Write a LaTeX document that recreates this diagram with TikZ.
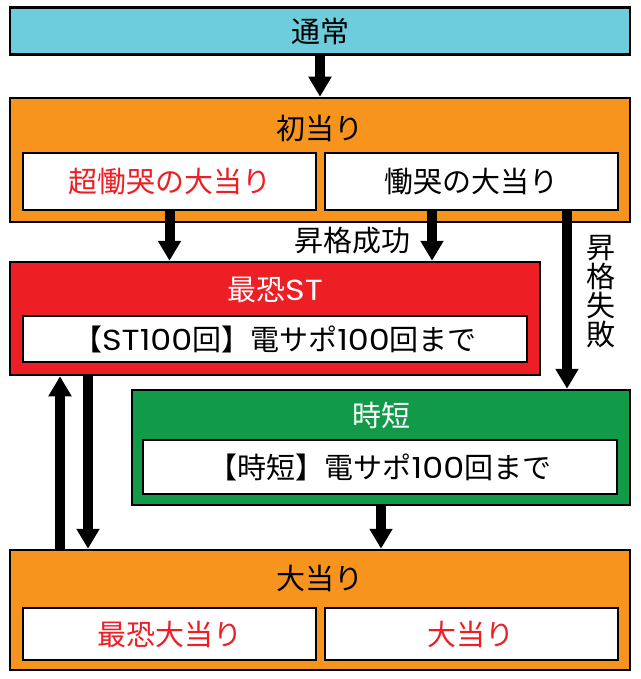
\documentclass[tikz,border=0pt]{standalone}
\usepackage{fontspec}
\setmainfont{Noto Sans CJK JP}
\newfontfamily\lat[FakeStretch=1.15]{Poppins}
\usetikzlibrary{arrows.meta}
\definecolor{tsujo}{RGB}{110,205,220}
\definecolor{atari}{RGB}{247,148,29}
\definecolor{saired}{RGB}{237,30,36}
\definecolor{jitan}{RGB}{17,155,72}
\begin{document}
\begin{tikzpicture}[x=1pt, y=-1pt, line join=miter, >={Triangle[width=22pt,length=20pt]}]
	\tikzset{every node/.style={font=\fontsize{29}{31}\selectfont}}
	\tikzset{outer/.style={draw, line width=2.5pt, minimum width=620pt, inner sep=0pt},
		inner/.style={draw, fill=white, line width=2pt, inner sep=0pt, minimum width=293pt},
		flow/.style={->, line width=10pt}}
	\useasboundingbox (0,0) rectangle (640,679);
	% boxes
	\node[outer, fill=tsujo, minimum height=47pt] (tsujo) at (320,31) {通常};
	\node[outer, fill=atari, minimum height=124pt] (shoatari) at (320,160) {};
	\node (shoatarit) at (320,128) {初当り};
	\node[inner, minimum height=57pt, text=saired] (cho) at (169.5,181.5) {超慟哭の大当り};
	\node[inner, minimum height=57pt] (dokoku) at (471,181.5) {慟哭の大当り};
	\node[outer, fill=saired, minimum width=530pt, minimum height=113pt] (st) at (275,318.5) {};
	\node[text=white] (stt) at (275,290) {最恐{\lat ST}};
	\node[inner, minimum width=504pt, minimum height=46pt] (stin) at (275,339) {【{\lat ST100}回】電サポ{\lat 100}回まで};
	\node[outer, fill=jitan, minimum width=498pt, minimum height=115pt] (jitan) at (381,447.5) {};
	\node[text=white] (jitant) at (381,415) {時短};
	\node[inner, minimum width=474pt, minimum height=54pt] (jitanin) at (380,467) {【時短】電サポ{\lat 100}回まで};
	\node[outer, fill=atari, minimum height=120pt] (ooatari) at (320,610) {};
	\node (ooatarit) at (320,578) {大当り};
	\node[inner, minimum height=52pt, text=saired] (saikyo) at (169.5,634) {最恐大当り};
	\node[inner, minimum height=52pt, text=saired] (ooatariin) at (471,634) {大当り};
	% arrows
	\draw[flow] (tsujo) -- (shoatari);
	\draw[flow] (cho.south) -- (cho.south |- st.north);
	\coordinate (seiko) at ([xshift=-39pt]dokoku.south);
	\draw[flow] (seiko) -- (seiko |- st.north);
	\node (seikot) at (352,241) {昇格成功};
	\coordinate (shippai) at ([xshift=96pt]dokoku.south);
	\draw[flow] (shippai) -- (shippai |- jitan.north);
	\node[align=center, font=\fontsize{29}{29}\selectfont] (shippait) at (601,292) {昇\\格\\失\\敗};
	\coordinate (modori) at ([xshift=-260pt]ooatari.north);
	\draw[flow] (modori) -- (modori |- st.south);
	\coordinate (ochi) at ([xshift=-187pt]st.south);
	\draw[flow] (ochi) -- (ochi |- ooatari.north);
	\draw[flow] (jitan.south) -- (jitan.south |- ooatari.north);
\end{tikzpicture}
\end{document}
